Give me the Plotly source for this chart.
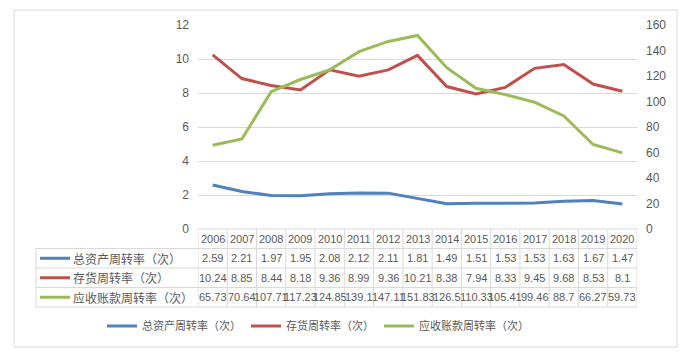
import plotly.graph_objects as go

years = ["2006", "2007", "2008", "2009", "2010", "2011", "2012", "2013",
         "2014", "2015", "2016", "2017", "2018", "2019", "2020"]
total_asset = [2.59, 2.21, 1.97, 1.95, 2.08, 2.12, 2.11, 1.81, 1.49, 1.51, 1.53, 1.53, 1.63, 1.67, 1.47]
inventory = [10.24, 8.85, 8.44, 8.18, 9.36, 8.99, 9.36, 10.21, 8.38, 7.94, 8.33, 9.45, 9.68, 8.53, 8.1]
receivable = [65.73, 70.64, 107.71, 117.23, 124.85, 139.1, 147.11, 151.83, 126.5, 110.33, 105.41, 99.46, 88.7, 66.27, 59.73]
total_asset_txt = ["2.59", "2.21", "1.97", "1.95", "2.08", "2.12", "2.11", "1.81", "1.49", "1.51", "1.53", "1.53", "1.63", "1.67", "1.47"]
inventory_txt = ["10.24", "8.85", "8.44", "8.18", "9.36", "8.99", "9.36", "10.21", "8.38", "7.94", "8.33", "9.45", "9.68", "8.53", "8.1"]
receivable_txt = ["65.73", "70.64", "107.71", "117.23", "124.85", "139.1", "147.11", "151.83", "126.5", "110.33", "105.41", "99.46", "88.7", "66.27", "59.73"]
names = ["总资产周转率（次）", "存货周转率（次）", "应收账款周转率（次）"]
colors = ["#4F81BD", "#C0504D", "#9BBB59"]

W, H = 690, 354
L, R, T, B = 198, 53, 25, 125
pw, ph = W - L - R, H - T - B

def px_x(p):
    return (p - L) / pw

def px_y(p):
    return (H - B - p) / ph

fig = go.Figure()
fig.add_trace(go.Scatter(x=years, y=total_asset, name=names[0], mode="lines",
                         line=dict(color=colors[0], width=3)))
fig.add_trace(go.Scatter(x=years, y=inventory, name=names[1], mode="lines",
                         line=dict(color=colors[1], width=3)))
fig.add_trace(go.Scatter(x=years, y=receivable, name=names[2], mode="lines",
                         line=dict(color=colors[2], width=3), yaxis="y2"))

grid = "#D9D9D9"
txt = "#595959"
cjk = "Noto Sans CJK SC"
numfont = "Liberation Sans"

shapes = []
annotations = []

# table geometry (pixels)
row_h = 19.5
top = H - B
row_edges = [top + i * row_h for i in range(5)]
label_left = 36
n = len(years)

# horizontal lines
shapes.append(dict(type="line", xref="x", yref="paper", x0=-0.5, x1=n - 0.5,
                   y0=px_y(row_edges[0]), y1=px_y(row_edges[0]), line=dict(color=grid, width=1)))
for e in row_edges[1:]:
    shapes.append(dict(type="line", xref="paper", yref="paper", x0=px_x(label_left), x1=1,
                       y0=px_y(e), y1=px_y(e), line=dict(color=grid, width=1)))
# vertical lines
for i in range(n + 1):
    shapes.append(dict(type="line", xref="x", yref="paper", x0=i - 0.5, x1=i - 0.5,
                       y0=px_y(row_edges[0]), y1=px_y(row_edges[-1]), line=dict(color=grid, width=1)))
shapes.append(dict(type="line", xref="paper", yref="paper", x0=px_x(label_left), x1=px_x(label_left),
                   y0=px_y(row_edges[1]), y1=px_y(row_edges[-1]), line=dict(color=grid, width=1)))

# header
for i, yr in enumerate(years):
    annotations.append(dict(x=i, xref="x", y=px_y((row_edges[0] + row_edges[1]) / 2), yref="paper",
                            yanchor="middle", xanchor="center",
                            text=yr, showarrow=False, font=dict(family=numfont, size=11, color=txt)))
rows = [total_asset_txt, inventory_txt, receivable_txt]
for r, vals in enumerate(rows):
    yc = px_y((row_edges[r + 1] + row_edges[r + 2]) / 2)
    for i, v in enumerate(vals):
        annotations.append(dict(x=i, xref="x", y=yc, yref="paper", text=v, showarrow=False,
                                yanchor="middle", xanchor="center",
                                font=dict(family=numfont, size=11, color=txt)))
    shapes.append(dict(type="line", xref="paper", yref="paper", x0=px_x(40), x1=px_x(70),
                       y0=yc, y1=yc, line=dict(color=colors[r], width=3)))
    annotations.append(dict(x=px_x(71), xref="paper", y=yc, yref="paper", text=names[r],
                            showarrow=False, xanchor="left", yanchor="middle",
                            font=dict(family=cjk, size=12, color=txt)))

# chart border
shapes.append(dict(type="rect", xref="paper", yref="paper", x0=px_x(14), x1=px_x(677),
                   y0=px_y(347), y1=px_y(10), line=dict(color=grid, width=1), layer="below"))

fig.update_layout(
    width=W, height=H,
    margin=dict(l=L, r=R, t=T, b=B),
    paper_bgcolor="white", plot_bgcolor="white",
    shapes=shapes, annotations=annotations,
    showlegend=True,
    legend=dict(orientation="h", xref="container", yref="container", x=318 / W, xanchor="center",
                y=1 - 326 / H, yanchor="middle", font=dict(family=cjk, size=11, color=txt),
                itemwidth=30, bgcolor="rgba(0,0,0,0)"),
    xaxis=dict(type="category", range=[-0.5, n - 0.5], showticklabels=False, showgrid=False,
               zeroline=False, showline=False, ticks=""),
    yaxis=dict(range=[0, 12], dtick=2, gridcolor=grid, gridwidth=1, zeroline=False, showline=False,
               ticks="", ticklabelstandoff=8, tickfont=dict(family=numfont, size=12, color=txt)),
    yaxis2=dict(range=[0, 160], dtick=20, overlaying="y", side="right", showgrid=False,
                zeroline=False, showline=False, ticks="", ticklabelstandoff=8,
                tickfont=dict(family=numfont, size=12, color=txt)),
)

fig.write_html("out.html")
